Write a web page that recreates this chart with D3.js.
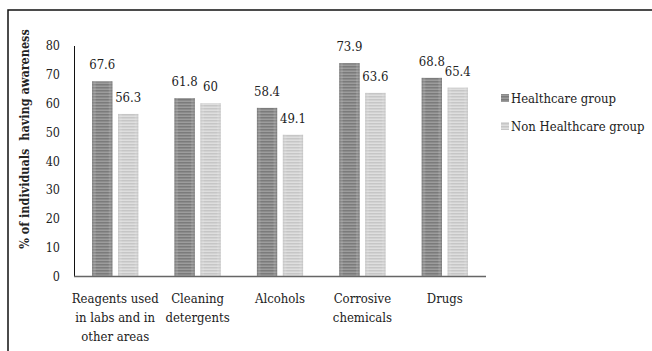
<!DOCTYPE html>
<html>
<head>
<meta charset="utf-8">
<script src="https://cdn.jsdelivr.net/npm/d3@7"></script>
<style>
  html, body { margin: 0; padding: 0; background: #fff; }
  svg { display: block; }
</style>
</head>
<body>
<svg id="chart" width="652" height="351"></svg>
<script>
// Awareness data by category
const categories = [
  ["Reagents used", "in labs and in", "other areas"],
  ["Cleaning", "detergents"],
  ["Alcohols"],
  ["Corrosive", "chemicals"],
  ["Drugs"]
];
const seriesNames = ["Healthcare group", "Non Healthcare group"];
const healthcare = [67.6, 61.8, 58.4, 73.9, 68.8];
const nonHealthcare = [56.3, 60, 49.1, 63.6, 65.4];
const yTicks = [0, 10, 20, 30, 40, 50, 60, 70, 80];

const FONT = "'DejaVu Serif', serif";

const svg = d3.select("#chart");
const defs = svg.append("defs");

// Striped fills with a soft horizontal shading
const fills = [
  { id: "dark", a: "#7b7b7b", b: "#9c9c9c", edge: "#6a6a6a" },
  { id: "light", a: "#c6c6c6", b: "#dedede", edge: "#bdbdbd" }
];
fills.forEach(f => {
  const p = defs.append("pattern")
    .attr("id", "stripe-" + f.id)
    .attr("patternUnits", "userSpaceOnUse")
    .attr("width", 4).attr("height", 3);
  p.append("rect").attr("width", 4).attr("height", 3).attr("fill", f.b);
  p.append("rect").attr("width", 4).attr("height", 1.5).attr("fill", f.a);
  const g = defs.append("linearGradient").attr("id", "shade-" + f.id)
    .attr("x1", 0).attr("x2", 1).attr("y1", 0).attr("y2", 0);
  g.append("stop").attr("offset", 0).attr("stop-color", f.edge).attr("stop-opacity", 0.6);
  g.append("stop").attr("offset", 0.2).attr("stop-color", "#fff").attr("stop-opacity", 0);
  g.append("stop").attr("offset", 0.8).attr("stop-color", "#fff").attr("stop-opacity", 0);
  g.append("stop").attr("offset", 1).attr("stop-color", f.edge).attr("stop-opacity", 0.6);
});

// Frame
svg.append("rect")
  .attr("x", 8).attr("y", 10).attr("width", 700).attr("height", 400)
  .attr("fill", "none").attr("stroke", "#111").attr("stroke-width", 1.5);

const plot = { left: 74, right: 486, top: 45.5, bottom: 276.5 };

const x = d3.scaleBand()
  .domain(d3.range(categories.length))
  .range([plot.left, plot.right])
  .paddingInner(0.44).paddingOuter(0.22);
const xs = d3.scaleBand()
  .domain([0, 1])
  .range([0, x.bandwidth()])
  .paddingInner(0.22);
const y = d3.scaleLinear().domain([0, 80]).range([plot.bottom, plot.top]);

function txt(sel, size, weight) {
  return sel.style("font-family", FONT)
    .style("font-stretch", "condensed")
    .style("font-size", size + "px")
    .style("font-weight", weight || "normal")
    .attr("fill", "#222");
}

// Y axis
const yAxis = svg.append("g")
  .attr("transform", `translate(${plot.left},0)`)
  .call(d3.axisLeft(y).tickValues(yTicks).tickSize(0).tickPadding(14));
yAxis.attr("font-family", null);
yAxis.select(".domain").attr("stroke", "#111").attr("stroke-width", 1);
txt(yAxis.selectAll("text"), 12.5);

// Bars
const seriesVals = [healthcare, nonHealthcare];
const groups = svg.append("g");
seriesVals.forEach((vals, si) => {
  const fid = fills[si].id;
  const g = groups.append("g");
  vals.forEach((v, ci) => {
    const bx = x(ci) + xs(si);
    g.append("rect")
      .attr("x", bx).attr("y", y(v))
      .attr("width", xs.bandwidth()).attr("height", y(0) - y(v))
      .attr("fill", `url(#stripe-${fid})`);
    g.append("rect")
      .attr("x", bx).attr("y", y(v))
      .attr("width", xs.bandwidth()).attr("height", y(0) - y(v))
      .attr("fill", `url(#shade-${fid})`);
    txt(g.append("text"), 13)
      .attr("x", bx + xs.bandwidth() / 2)
      .attr("y", y(v) - 12)
      .attr("text-anchor", "middle")
      .text(v);
  });
});

// X axis baseline
svg.append("line")
  .attr("x1", plot.left).attr("x2", plot.right)
  .attr("y1", y(0)).attr("y2", y(0))
  .attr("stroke", "#666").attr("stroke-width", 1.3);

// Category labels
categories.forEach((lines, ci) => {
  const t = txt(svg.append("text"), 13).attr("text-anchor", "middle");
  lines.forEach((ln, li) => {
    t.append("tspan")
      .attr("x", x(ci) + x.bandwidth() / 2)
      .attr("y", 303 + li * 19)
      .text(ln);
  });
});

// Y axis title
txt(svg.append("text"), 12.5, "bold")
  .attr("transform", `translate(29,${(plot.top + plot.bottom) / 2 - 22}) rotate(-90)`)
  .attr("text-anchor", "middle")
  .style("white-space", "pre")
  .text("% of individuals  having awareness");

// Legend
const legend = svg.append("g").attr("transform", "translate(501,0)");
seriesNames.forEach((name, i) => {
  const cy = 98 + i * 28;
  legend.append("rect")
    .attr("x", 0).attr("y", cy - 4).attr("width", 8).attr("height", 8)
    .attr("fill", `url(#stripe-${fills[i].id})`);
  txt(legend.append("text"), 13)
    .attr("x", 10).attr("y", cy + 5)
    .text(name);
});
</script>
</body>
</html>
